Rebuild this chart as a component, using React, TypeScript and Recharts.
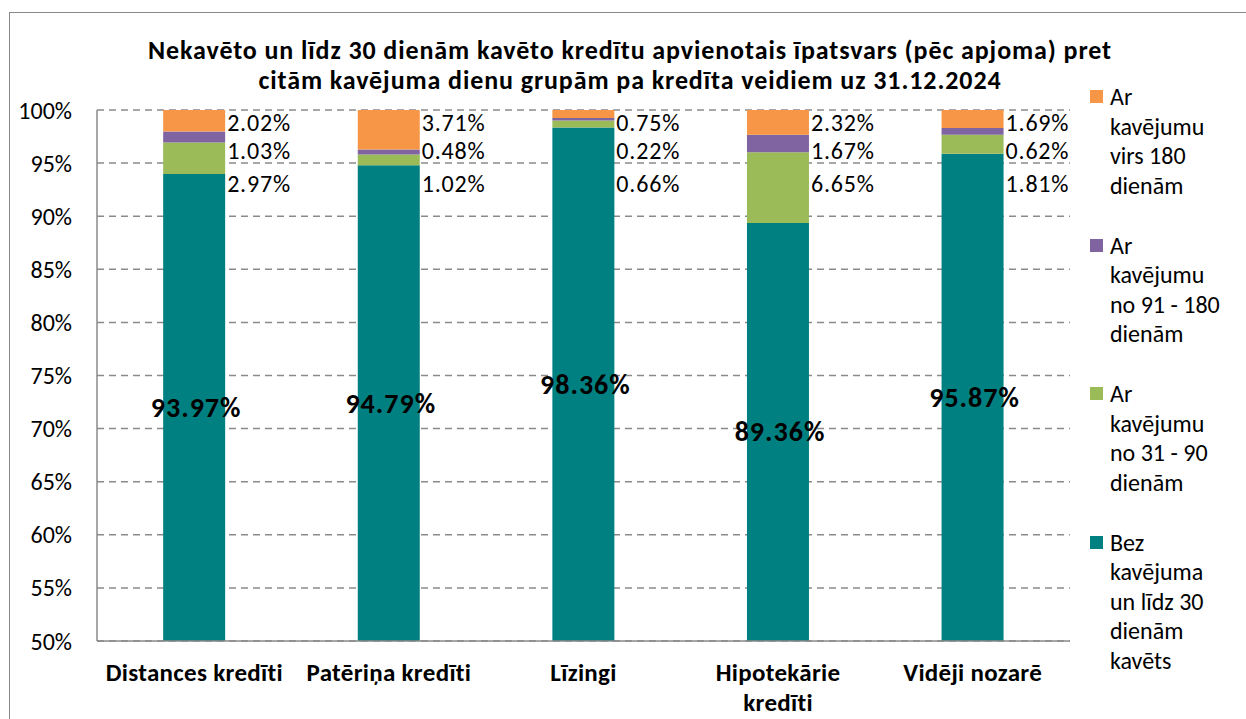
import React from 'react';
import { BarChart, Bar, XAxis, YAxis, CartesianGrid, Legend, LabelList } from 'recharts';

const categories = ['Distances kredīti', 'Patēriņa kredīti', 'Līzingi', 'Hipotekārie kredīti', 'Vidēji nozarē'];
const categoryLines = [['Distances kredīti'], ['Patēriņa kredīti'], ['Līzingi'], ['Hipotekārie', 'kredīti'], ['Vidēji nozarē']];
const bezKavejuma = [93.97, 94.79, 98.36, 89.36, 95.87];
const kav31to90 = [2.97, 1.02, 0.66, 6.65, 1.81];
const kav91to180 = [1.03, 0.48, 0.22, 1.67, 0.62];
const kavVirs180 = [2.02, 3.71, 0.75, 2.32, 1.69];
const yTicks = [50, 55, 60, 65, 70, 75, 80, 85, 90, 95, 100];

const seriesNames = [
  'Bez kavējuma un līdz 30 dienām kavēts',
  'Ar kavējumu no 31 - 90 dienām',
  'Ar kavējumu no 91 - 180 dienām',
  'Ar kavējumu virs 180 dienām',
];
const legendLines = [
  ['Bez', 'kavējuma', 'un līdz 30', 'dienām', 'kavēts'],
  ['Ar', 'kavējumu', 'no 31 - 90', 'dienām'],
  ['Ar', 'kavējumu', 'no 91 - 180', 'dienām'],
  ['Ar', 'kavējumu', 'virs 180', 'dienām'],
];
const colors = ['#008080', '#9BBB59', '#8064A2', '#F79646'];
const titleLines = [
  'Nekavēto un līdz 30 dienām kavēto kredītu apvienotais īpatsvars (pēc apjoma) pret',
  'citām kavējuma dienu grupām pa kredīta veidiem uz 31.12.2024',
];

const data = categories.map((c, i) => ({
  name: c,
  s0: bezKavejuma[i],
  s1: kav31to90[i],
  s2: kav91to180[i],
  s3: kavVirs180[i],
}));

const FONT = 'Calibri, Carlito, Lato, sans-serif';

const XTick = (props: any) => {
  const { x, y, index } = props;
  const lines = categoryLines[index] || [String(props.payload?.value ?? '')];
  return (
    <g>
      {lines.map((l: string, i: number) => (
        <text key={i} x={x} y={y + 23 + i * 30} textAnchor="middle" dominantBaseline="central"
          fontFamily={FONT} fontWeight="bold" fontSize={25} letterSpacing={0.3} fill="#000">{l}</text>
      ))}
    </g>
  );
};

const sideLabels = (props: any) => {
  const { x, y, width, index } = props;
  const vals = [kavVirs180[index], kav91to180[index], kav31to90[index]];
  const offs = [12, 40, 73];
  return (
    <g>
      {vals.map((v, i) => (
        <text key={i} x={Number(x) + Number(width) + 2} y={Number(y) + offs[i]} dominantBaseline="central"
          fontFamily={FONT} fontSize={24} letterSpacing={0.8} fill="#000">{v.toFixed(2)}%</text>
      ))}
    </g>
  );
};

const centerLabel = (props: any) => {
  const { x, y, width, height, value } = props;
  const cy = Number(y) + Number(height) / 2;
  return (
    <text x={Number(x) + Number(width) / 2 + 2} y={cy} textAnchor="middle" dominantBaseline="central"
      fontFamily={FONT} fontWeight="bold" fontSize={28} letterSpacing={1} fill="#000">{Number(value).toFixed(2)}%</text>
  );
};

const renderLegend = (props: any) => {
  const payload = (props.payload || []).slice().sort(
    (a: any, b: any) => seriesNames.indexOf(b.value) - seriesNames.indexOf(a.value)
  );
  return (
    <div style={{ fontFamily: FONT, fontSize: 24, color: '#000' }}>
      {payload.map((p: any, i: number) => {
        const idx = seriesNames.indexOf(p.value);
        const lines = legendLines[idx] || [p.value];
        return (
          <div key={i} style={{ position: 'relative', height: 148.5 }}>
            <div style={{ position: 'absolute', left: 0, top: 8, width: 13, height: 13, background: p.color }} />
            <div style={{ position: 'absolute', left: 20, top: 0, lineHeight: '29.5px', whiteSpace: 'nowrap' }}>
              {lines.map((l: string, j: number) => <div key={j}>{l}</div>)}
            </div>
          </div>
        );
      })}
    </div>
  );
};

export default function App() {
  return (
    <div style={{ position: 'absolute', left: 0, top: 0, width: 1246, height: 719, overflow: 'hidden', background: '#fff' }}>
      <div style={{ position: 'absolute', left: 9, top: 12, width: 1300, height: 800, border: '1.5px solid #898989' }} />
      <div style={{ position: 'absolute', left: 80, top: 35, width: 1100, textAlign: 'center', fontFamily: FONT, fontWeight: 'bold', fontSize: 26, letterSpacing: 0.9, lineHeight: '30px', color: '#000' }}>
        {titleLines.map((t, i) => <div key={i}>{t}</div>)}
      </div>
      <div style={{ position: 'absolute', left: 0, top: 0 }}>
        <BarChart width={1246} height={719} data={data} margin={{ top: 110, right: 176, bottom: 0, left: 0 }} barCategoryGap="34%">
          <CartesianGrid vertical={false} strokeDasharray="7 5" stroke="#8a8a8a" strokeWidth={1.5} />
          <XAxis dataKey="name" height={78} tickLine={false} axisLine={{ stroke: '#8a8a8a', strokeWidth: 1.5 }} tick={<XTick />} interval={0} />
          <YAxis width={97} domain={[50, 100]} ticks={yTicks} allowDataOverflow tickLine={false} tickSize={0} tickMargin={25}
            axisLine={{ stroke: '#8a8a8a', strokeWidth: 1.5 }}
            tick={{ fontFamily: FONT, fontSize: 24, fill: '#000' }} tickFormatter={(v: number) => `${v}%`} />
          <Legend layout="vertical" align="center" verticalAlign="middle" content={renderLegend}
            wrapperStyle={{ left: 1090, top: 82, width: 156 }} />
          <Bar dataKey="s0" name={seriesNames[0]} stackId="a" fill={colors[0]} isAnimationActive={false}>
            <LabelList dataKey="s0" content={centerLabel} />
          </Bar>
          <Bar dataKey="s1" name={seriesNames[1]} stackId="a" fill={colors[1]} isAnimationActive={false} />
          <Bar dataKey="s2" name={seriesNames[2]} stackId="a" fill={colors[2]} isAnimationActive={false} />
          <Bar dataKey="s3" name={seriesNames[3]} stackId="a" fill={colors[3]} isAnimationActive={false}>
            <LabelList dataKey="s3" content={sideLabels} />
          </Bar>
        </BarChart>
      </div>
    </div>
  );
}
